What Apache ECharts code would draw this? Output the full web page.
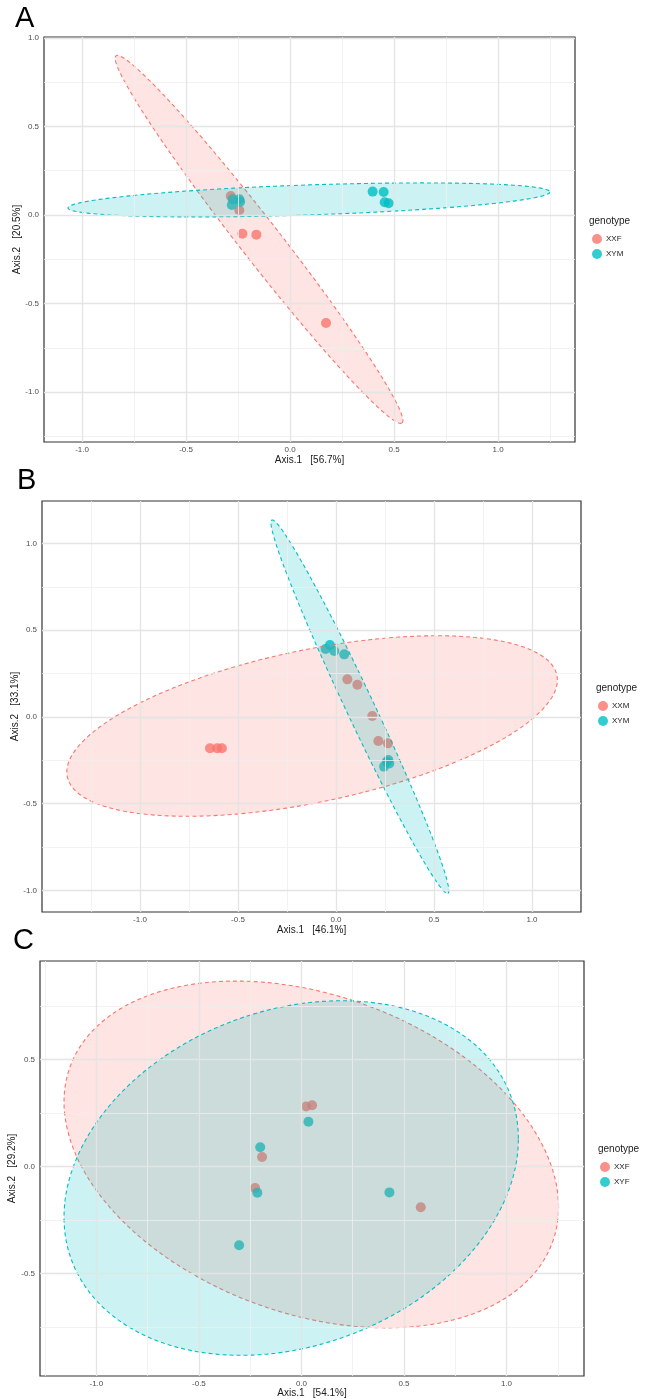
<!DOCTYPE html>
<html>
<head>
<meta charset="utf-8">
<script src="https://cdn.jsdelivr.net/npm/echarts@6/dist/echarts.min.js"></script>
<style>html,body{margin:0;padding:0;background:#fff}#c{width:646px;height:1399px}</style>
</head>
<body>
<div id="c"></div>
<script>
// ---------- DATA ----------
// Panel A
const A_XXF = [[-0.285,0.107],[-0.244,0.027],[-0.229,-0.106],[-0.162,-0.111],[0.173,-0.610]];
const A_XYM = [[-0.276,0.089],[-0.244,0.089],[-0.280,0.056],[-0.240,0.075],[0.397,0.132],[0.450,0.130],[0.455,0.072],[0.474,0.066]];
// ellipse: [cx, cy, ux, uy, vx, vy]  (centre + two conjugate semi-diameters)
const A_ELL_XXF = [-0.149,-0.138,0.6875,-1.0367,0.0759,0.0695];
const A_ELL_XYM = [0.091,0.085,1.1587,0.0452,0.0024,-0.0847];
const A_XTICKS = [-1.0,-0.5,0.0,0.5,1.0];
const A_XMINOR = [-0.75,-0.25,0.25,0.75,1.25];
const A_YTICKS = [-1.0,-0.5,0.0,0.5,1.0];
const A_YMINOR = [-1.25,-0.75,-0.25,0.25,0.75];
const A_XRANGE = [-1.183,1.370];
const A_YRANGE = [-1.282,1.005];

// Panel B
const B_XXM = [[-0.643,-0.180],[-0.606,-0.180],[-0.582,-0.180],[0.058,0.217],[0.109,0.186],[0.185,0.006],[0.216,-0.138],[0.265,-0.152]];
const B_XYM = [[-0.053,0.392],[-0.031,0.415],[-0.009,0.380],[0.042,0.361],[0.245,-0.286],[0.259,-0.258],[0.267,-0.248],[0.272,-0.268]];
const B_ELL_XXM = [-0.122,-0.052,1.2515,0.2651,0,0.4478];
const B_ELL_XYM = [0.122,0.059,0.449,-1.076,0.0648,0.0343];
const B_XTICKS = [-1.0,-0.5,0.0,0.5,1.0];
const B_XMINOR = [-1.25,-0.75,-0.25,0.25,0.75];
const B_YTICKS = [-1.0,-0.5,0.0,0.5,1.0];
const B_YMINOR = [-0.75,-0.25,0.25,0.75];
const B_XRANGE = [-1.5,1.25];
const B_YRANGE = [-1.124,1.245];

// Panel C
const C_XXF = [[0.023,0.280],[0.052,0.286],[-0.192,0.044],[-0.226,-0.101],[0.582,-0.190]];
const C_XYF = [[0.034,0.209],[-0.201,0.090],[-0.215,-0.123],[0.429,-0.121],[-0.304,-0.368]];
const C_ELL_XXF = [0.048,0.056,1.206,-0.246,0,0.771];
const C_ELL_XYF = [-0.050,-0.054,1.108,0.183,0,0.807];
const C_XTICKS = [-1.0,-0.5,0.0,0.5,1.0];
const C_XMINOR = [-1.25,-0.75,-0.25,0.25,0.75,1.25];
const C_YTICKS = [-0.5,0.0,0.5];
const C_YMINOR = [-0.75,-0.25,0.25,0.75];
const C_XRANGE = [-1.275,1.378];
const C_YRANGE = [-0.978,0.959];

const PANELS = [
  {letter:'A', g1:'XXF', g2:'XYM', d1:A_XXF, d2:A_XYM, e1:A_ELL_XXF, e2:A_ELL_XYM,
   xt:A_XTICKS, xm:A_XMINOR, yt:A_YTICKS, ym:A_YMINOR, xr:A_XRANGE, yr:A_YRANGE,
   xname:'Axis.1   [56.7%]', yname:'Axis.2   [20.5%]'},
  {letter:'B', g1:'XXM', g2:'XYM', d1:B_XXM, d2:B_XYM, e1:B_ELL_XXM, e2:B_ELL_XYM,
   xt:B_XTICKS, xm:B_XMINOR, yt:B_YTICKS, ym:B_YMINOR, xr:B_XRANGE, yr:B_YRANGE,
   xname:'Axis.1   [46.1%]', yname:'Axis.2   [33.1%]'},
  {letter:'C', g1:'XXF', g2:'XYF', d1:C_XXF, d2:C_XYF, e1:C_ELL_XXF, e2:C_ELL_XYF,
   xt:C_XTICKS, xm:C_XMINOR, yt:C_YTICKS, ym:C_YMINOR, xr:C_XRANGE, yr:C_YRANGE,
   xname:'Axis.1   [54.1%]', yname:'Axis.2   [29.2%]'}
];

// ---------- LAYOUT / STYLE ----------
const LAYOUT = [
  {grid:{left:44,top:37,width:531,height:405}, xGap:13, yGap:22, letter:[15,4],
   legTitle:[589,216], leg:[592,234]},
  {grid:{left:42,top:501,width:539,height:411}, xGap:13, yGap:22, letter:[17,466],
   legTitle:[596,683], leg:[598,701]},
  {grid:{left:40,top:961,width:544,height:415}, xGap:12, yGap:23, letter:[13,926],
   legTitle:[598,1144], leg:[600,1162]}
];
const RED = '#F8766D', CYAN = '#00BFC4';
const FILL = {red:'rgba(248,118,109,0.2)', cyan:'rgba(0,191,196,0.2)'};
const FONT = 'Liberation Sans, Arial, sans-serif';

const chart = echarts.init(document.getElementById('c'), null, {renderer:'canvas'});

function ellipseRender(fill, stroke){
  return function(params, api){
    const cx=api.value(0), cy=api.value(1), ux=api.value(2), uy=api.value(3), vx=api.value(4), vy=api.value(5);
    const pts=[];
    const n=180;
    for(let i=0;i<n;i++){
      const t=2*Math.PI*i/n;
      pts.push(api.coord([cx+ux*Math.cos(t)+vx*Math.sin(t), cy+uy*Math.cos(t)+vy*Math.sin(t)]));
    }
    return {type:'polygon', shape:{points:pts},
      style:{fill:fill, stroke:stroke, lineWidth:1.1, lineDash:[4,3]}};
  };
}

function axis(i, range, ticks, name, gap, isX){
  return {
    type:'value', gridIndex:i, min:range[0], max:range[1],
    name:name, nameLocation:'middle', nameGap:gap, nameMoveOverlap:false,
    nameTextStyle:{fontSize:10, color:'#1a1a1a', fontFamily:FONT},
    axisLine:{show:false}, splitLine:{show:false},
    axisTick:{show:true, customValues:ticks, length:3, inside:false, lineStyle:{color:'#333', width:1}},
    axisLabel:{customValues:ticks, formatter:v=>Number(v).toFixed(1), fontSize:8, color:'#4d4d4d', margin:isX?4:5, fontFamily:FONT}
  };
}

const grids=[], xAxes=[], yAxes=[], series=[], legends=[], graphics=[];
PANELS.forEach((p,i)=>{
  const L=LAYOUT[i];
  grids.push(Object.assign({show:true, borderColor:'#333', borderWidth:1.2, backgroundColor:'#fff',
    containLabel:false, outerBoundsMode:'none'}, L.grid));
  xAxes.push(axis(i,p.xr,p.xt,p.xname,L.xGap,true));
  yAxes.push(axis(i,p.yr,p.yt,p.yname,L.yGap,false));
  const major={color:'#e4e4e4', width:1.3, type:'solid'};
  const minor={color:'#efefef', width:0.8, type:'solid'};
  const ml=[]
    .concat(p.xm.map(v=>({xAxis:v, lineStyle:minor})))
    .concat(p.ym.map(v=>({yAxis:v, lineStyle:minor})))
    .concat(p.xt.map(v=>({xAxis:v, lineStyle:major})))
    .concat(p.yt.map(v=>({yAxis:v, lineStyle:major})));
  series.push({type:'line', xAxisIndex:i, yAxisIndex:i, data:[], z:1, silent:true,
    markLine:{silent:true, symbol:['none','none'], animation:false, label:{show:false}, data:ml}});
  series.push({type:'scatter', name:p.g1, xAxisIndex:i, yAxisIndex:i, data:p.d1, symbolSize:10, z:2,
    itemStyle:{color:RED, opacity:0.8}});
  series.push({type:'scatter', name:p.g2, xAxisIndex:i, yAxisIndex:i, data:p.d2, symbolSize:10, z:2,
    itemStyle:{color:CYAN, opacity:0.8}});
  series.push({type:'custom', xAxisIndex:i, yAxisIndex:i, data:[p.e1], z:3, silent:true, clip:true,
    encode:{x:0,y:1}, renderItem:ellipseRender(FILL.red, RED)});
  series.push({type:'custom', xAxisIndex:i, yAxisIndex:i, data:[p.e2], z:3, silent:true, clip:true,
    encode:{x:0,y:1}, renderItem:ellipseRender(FILL.cyan, CYAN)});
  legends.push({orient:'vertical', left:L.leg[0], top:L.leg[1], data:[p.g1,p.g2], icon:'circle',
    itemWidth:10, itemHeight:10, itemGap:5, padding:0, selectedMode:false,
    textStyle:{fontSize:8, color:'#1a1a1a', fontFamily:FONT, padding:[0,0,0,-1]}});
  graphics.push({type:'text', left:L.letter[0], top:L.letter[1],
    style:{text:p.letter, fontSize:29, fill:'#000', fontFamily:FONT}});
  graphics.push({type:'text', left:L.legTitle[0], top:L.legTitle[1],
    style:{text:'genotype', fontSize:10, fill:'#1a1a1a', fontFamily:FONT}});
});

chart.setOption({
  animation:false,
  backgroundColor:'#fff',
  grid:grids, xAxis:xAxes, yAxis:yAxes, series:series, legend:legends, graphic:graphics
});
</script>
</body>
</html>
